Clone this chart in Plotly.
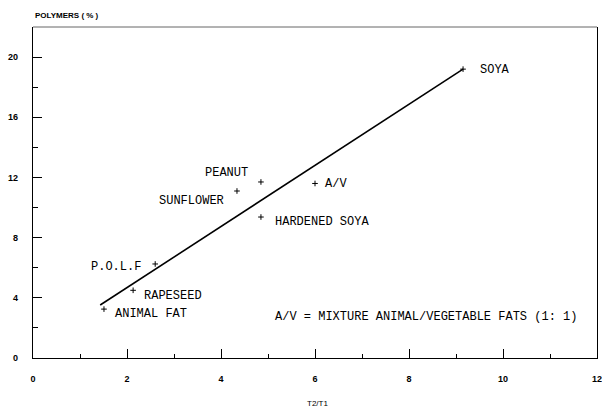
import plotly.graph_objects as go

# Data
oils = ["SOYA", "ANIMAL FAT", "RAPESEED", "P.O.L.F", "SUNFLOWER", "PEANUT", "A/V", "HARDENED SOYA"]
t2_t1 = [9.15, 1.51, 2.13, 2.60, 4.34, 4.85, 6.00, 4.85]
polymers = [19.2, 3.25, 4.5, 6.25, 11.1, 11.7, 11.6, 9.37]

fit_x = [1.43, 9.15]
fit_y = [3.52, 19.2]

# label offsets in pixels (x right, y up) and anchors
label_dx = [15, 9, 9, -12, -11, -11, 8, 12]
label_dy = [-1, -5, -6, -3, -10, 9, -1, -5]
label_anchor = ["left", "left", "left", "right", "right", "right", "left", "left"]

MONO = "Liberation Mono"
SANS = "Liberation Sans"

fig = go.Figure()
fig.add_trace(go.Scatter(x=fit_x, y=fit_y, mode="lines",
                         line=dict(color="black", width=1.6), hoverinfo="skip"))
fig.add_trace(go.Scatter(x=t2_t1, y=polymers, mode="markers",
                         marker=dict(symbol="cross-thin", size=4, line=dict(color="black", width=1))))

for name, x, y, dx, dy, anc in zip(oils, t2_t1, polymers, label_dx, label_dy, label_anchor):
    fig.add_annotation(x=x, y=y, text=name, showarrow=False, xanchor=anc, yanchor="middle",
                       xshift=dx, yshift=dy, font=dict(family=MONO, size=12, color="black"))

fig.add_annotation(x=5.1, y=2.72, text="A/V = MIXTURE ANIMAL/VEGETABLE FATS (1: 1)",
                   showarrow=False, xanchor="left", yanchor="middle",
                   font=dict(family=MONO, size=12, color="black"))

fig.add_annotation(xref="paper", yref="paper", x=0, y=1.036, text="<b>POLYMERS ( % )</b>",
                   showarrow=False, xanchor="left", yanchor="middle",
                   font=dict(family=SANS, size=8, color="black"))
fig.add_annotation(xref="paper", yref="paper", x=0.504, y=-0.136, text="T2/T1",
                   showarrow=False, xanchor="center", yanchor="middle",
                   font=dict(family=SANS, size=8, color="black"))

# faint top frame
fig.add_shape(type="line", xref="paper", yref="paper", x0=0, x1=1, y0=1, y1=1,
              line=dict(color="#666", width=1))

fig.update_layout(
    width=602, height=409,
    margin=dict(l=33, r=5, t=27, b=51, autoexpand=False),
    paper_bgcolor="white", plot_bgcolor="white",
    showlegend=False,
    font=dict(family=SANS, color="black"),
)
fig.update_xaxes(range=[0, 12], tickmode="array", tickvals=[0, 2, 4, 6, 8, 10, 12],
                 ticks="inside", ticklen=9, tickwidth=1, tickcolor="black",
                 minor=dict(tickmode="array", tickvals=[1, 3, 5, 7, 9, 11], ticks="inside",
                            ticklen=4, tickcolor="black"),
                 showline=True, linecolor="black", linewidth=1.3, showgrid=False, zeroline=False,
                 ticklabelstandoff=12, automargin=False, ticklabeloverflow="allow",
                 tickfont=dict(family=SANS, size=9, color="black", weight="bold"))
fig.update_yaxes(range=[0, 22], tickmode="array", tickvals=[0, 4, 8, 12, 16, 20],
                 ticks="inside", ticklen=9, tickwidth=1, tickcolor="black",
                 minor=dict(tickmode="array", tickvals=[2, 6, 10, 14, 18], ticks="inside",
                            ticklen=5, tickcolor="black"),
                 showline=True, mirror=True, linecolor="black", linewidth=1.3,
                 showgrid=False, zeroline=False, ticklabelstandoff=12, automargin=False,
                 tickfont=dict(family=SANS, size=9, color="black", weight="bold"))

fig.write_html("out.html", config={"displayModeBar": False},
               post_script="document.body.style.margin='0';document.body.style.overflow='hidden';")
